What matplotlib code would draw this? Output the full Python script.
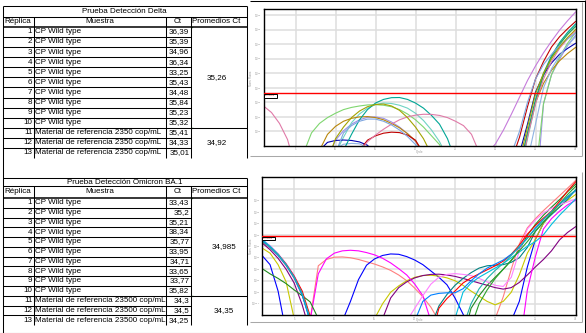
import numpy as np
import matplotlib
matplotlib.use("Agg")
import matplotlib.pyplot as plt
from matplotlib.patches import Rectangle, Polygon

plt.rcParams['font.family'] = ['Liberation Sans', 'DejaVu Sans']

W, H = 586, 333

# ---------------- table data ----------------
headers = ["Réplica", "Muestra", "Ct", "Promedios Ct"]
replicas = list(range(1, 14))

delta_title = "Prueba Detección Delta"
delta_samples = ["CP Wild type"] * 10 + ["Material de referencia 2350 cop/mL"] * 3
delta_ct = ["36,39", "35,39", "34,96", "36,34", "33,25", "35,43", "34,48",
            "35,84", "35,23", "35,32", "35,41", "34,33", "35,01"]
delta_avg = ["35,26", "34,92"]

omicron_title = "Prueba Detección Omicron BA.1"
omicron_samples = ["CP Wild type"] * 10 + ["Material de referencia 23500 cop/mL"] * 3
omicron_ct = ["33,43", "35,2", "35,21", "38,34", "35,77", "33,95", "34,71",
              "33,65", "33,77", "35,82", "34,3", "34,5", "34,25"]
omicron_avg = ["34,985", "34,35"]

avg_groups = [(0, 10), (10, 13)]

# ---------------- chart data (log10 fluorescence, decades above axis floor) ----------------
cycle_ticks = [5, 10, 15, 20, 25, 30, 35, 40]

delta_threshold = 3.62
delta_colors = ["#9b8fe6", "#6fd3c3", "#0000b0", "#7fd66f", "#c67bdb", "#b8860b", "#c00000",
                "#8fb3e3", "#00a696", "#2f9e4f", "#e07aa8", "#7ea6e0", "#a3a300"]
# each sample: list of (first cycle, values at consecutive cycles)
delta_curves = [
    [(9, [-1, 0.4, 1.05, 1.5, 1.8, 1.97, 2.0, 1.9, 1.65, 1.3, 0.85, 0.3, -0.6]),
     (35, [-4, 2.9, 4.9, 5.95, 6.9, 7.6])],
    [(10, [-0.5, 0.6, 1.6, 2.2, 2.6, 2.85, 2.95, 2.92, 2.8, 2.6, 2.25, 1.75, 1.1, 0.3, -0.8]),
     (33, [-2, 0.5, 2.9, 4.8, 6.0, 6.95, 7.7, 8.3])],
    [(8, [-0.3, 0.25, 0.38, 0.41, 0.38, 0.28, 0.05, -0.6]),
     (33, [-0.5, 1.5, 3.7, 4.9, 5.7, 6.3, 6.7, 7.05])],
    [(6, [-0.5, 0.9, 1.55, 1.95, 2.25, 2.5, 2.65, 2.75, 2.82, 2.84, 2.8, 2.7, 2.5, 2.2, 1.8, 1.3, 0.7, 0.1, -1]),
     (35, [-2, 2.9, 4.9, 6.1, 7.05, 7.8])],
    [(29, [-0.5, 0.15, 1.1, 2.2, 3.35, 4.5, 5.5, 6.4, 7.2, 7.95, 8.6, 9.2])],
    [(8, [-0.3, 0.8, 1.35, 1.7, 1.9, 2.0, 2.02, 1.95, 1.8, 1.55, 1.25, 0.85, 0.35, -0.5]),
     (33, [-1.5, 0.9, 3.0, 4.3, 5.2, 5.85, 6.35, 6.77])],
    [(13, [-0.3, 0.4, 0.7, 0.88, 0.95, 0.92, 0.75, 0.4, -0.5]),
     (32, [-1.0, 0.6, 2.7, 4.6, 5.8, 6.8, 7.5, 8.05, 8.55])],
    [(10, [-0.2, 0.12, 0.18, 0.15, -0.1]),
     (34, [-1, 1.5, 4.0, 5.3, 6.2, 6.9, 7.5])],
    [(11, [-0.3, 0.8, 1.8, 2.5, 2.95, 3.2, 3.32, 3.33, 3.2, 2.95, 2.6, 2.1, 1.5, 0.5, -1]),
     (33, [-1.5, 0.9, 3.2, 5.0, 6.2, 7.1, 7.8, 8.38])],
    [(33, [-2, 0.7, 3.0, 4.9, 6.1, 7.0, 7.65, 8.2])],
    [(1, [2.75, 2.3, 1.55, 0.45, -1.5]),
     (13, [-0.4, 0.3, 0.75, 1.15, 1.5, 1.8, 2.0, 2.12, 2.18, 2.17, 2.1, 1.95, 1.7, 1.4, 0.8, -0.5]),
     (33, [-2, 0.6, 2.9, 4.6, 5.8, 6.7, 7.35, 7.9])],
    [(10, [-0.5, 0.9, 1.4, 1.7, 1.85, 1.85, 1.7, 1.45, 1.1, 0.65, 0.1, -0.8]),
     (32, [-0.5, 1.0, 3.0, 4.6, 5.6, 6.3, 6.9, 7.35, 7.75])],
    [(9, [-1, 0.5, 1.3, 1.95, 2.4, 2.7, 2.85, 2.88, 2.75, 2.45, 1.95, 1.3, 0.5, -0.6]),
     (33, [-1, 1.3, 3.6, 5.0, 6.0, 6.8, 7.45, 8.0])],
]

omicron_threshold = 6.88
omicron_colors = ["#ff7f7f", "#0000ff", "#c8c800", "#800080", "#ff00ff", "#1f8a1f", "#008080",
                  "#ff80ff", "#ff0000", "#00bfdf", "#0080ff", "#2ca02c", "#20b2aa"]
omicron_curves = [
    [(1, [6.4, 5.85, 5.2, 4.3, 3.2, 1.7, -0.3, 4.3, 4.85, 5.05, 5.07, 5.0, 4.85, 4.65, 4.45, 4.2,
          3.9, 3.5, 3.0, 2.35, 1.6, 0.7, -0.5]),
     (30, [-0.3, 1.6, 4.0, 6.2, 7.6, 8.4, 9.1, 9.75, 10.4, 11.05, 11.72])],
    [(1, [5.2, 4.4, 2.1, -1.5]),
     (11, [-0.5, 1.2, 3.1, 4.35, 4.9, 5.2, 5.33, 5.3, 5.1, 4.8, 4.4, 3.85, 3.3, 2.65, 1.5, 0.1, -1.5]),
     (32, [-0.5, 1.2, 4.2, 6.6, 8.0, 8.9, 9.7, 10.3, 10.85])],
    [(1, [5.85, 5.4, 4.4, 2.9, -0.3]),
     (15, [-0.3, 1.0, 2.0, 2.55, 3.0, 3.3, 3.45, 3.48, 3.4, 3.25, 3.0, 2.6, 2.1, 1.65, 1.2, 0.9,
           1.2, 2.0, 3.5, 5.4, 6.6, 8.0, 8.85, 9.45, 10.0, 10.5])],
    [(1, [6.3, 5.7, 4.95, 4.0, 2.8, 0.9, -1.5]),
     (16, [-0.3, 1.5, 2.4, 2.9, 3.25, 3.45, 3.55, 3.57, 3.5, 3.38, 3.2, 3.0, 2.8, 2.6, 2.4, 2.27,
           2.4, 2.85, 3.5, 4.2, 4.85, 5.6, 6.55, 7.2, 7.7])],
    [(1, [6.5, 5.95, 5.25, 4.4, 3.3, 1.8, -0.4, 3.6, 4.9, 5.4, 5.6, 5.65, 5.6, 5.45, 5.25, 4.95,
          4.55, 4.05, 3.5, 2.7, 1.7, -0.5]),
     (33, [-3, 2.2, 5.1, 7.5, 8.4, 9.05, 9.6, 10.0])],
    [(1, [4.06, 3.6, 3.2, 2.75, 2.2, 1.7, 1.15, -0.3]),
     (26, [-2, 0.6, 1.7, 2.6, 3.3, 4.0, 4.75, 5.7, 6.95, 7.9, 8.7, 9.4, 10.05, 10.75, 11.4])],
    [(1, [6.55, 6.0, 5.3, 4.4, 3.35, 1.9, -0.4]),
     (22, [-1, 0.8, 1.8, 2.6, 3.2, 3.7, 4.1, 4.3, 4.35, 4.4, 4.6, 5.0, 5.9, 7.3, 8.1, 8.75, 9.4, 10.1, 10.9])],
    [(1, [6.6, 6.05, 5.35, 4.5, 3.45, 2.0, -0.2]),
     (19, [-0.5, 0.6, 1.7, 2.7, 3.3, 3.55, 3.62, 3.55, 3.45, 3.2, 2.9, 2.6, 2.5, 3.3, 5.6, 7.5,
           8.3, 8.9, 9.3, 9.6, 9.85, 10.1])],
    [(1, [6.45, 5.95, 5.3, 4.45, 3.4, 2.1, -0.1]),
     (22, [-2, 0.6, 1.45, 2.1, 2.8, 3.25, 3.6, 3.95, 4.3, 4.7, 5.3, 6.1, 7.05, 7.8, 8.45, 9.05, 9.9, 10.8, 11.6])],
    [(1, [6.6, 6.0, 5.3, 4.4, 3.3, 1.8, -0.6]),
     (25, [-0.3, 2.0, 2.8, 3.3, 3.7, 4.1, 4.5, 5.0, 5.5, 6.0, 6.4, 7.0, 7.9, 8.7, 9.4, 10.1])],
    [(1, [6.5, 5.9, 5.2, 4.35, 3.25, 1.75, -0.5]),
     (20, [-0.5, 1.2, 1.75, 1.9, 1.95, 1.95, 2.3, 3.0, 3.6, 4.1, 4.45, 4.8, 5.3, 5.9, 6.7, 7.6,
           8.35, 9.0, 9.65, 10.25, 10.85])],
    [(27, [-1, 1.0, 2.2, 3.2, 4.0, 4.8, 5.6, 6.4, 7.3, 8.1, 8.9, 9.7, 10.5, 11.2])],
    [(1, [6.45, 5.9, 5.25, 4.4, 3.3, 1.9, -0.3]),
     (26, [-1, 1.0, 2.3, 3.2, 3.9, 4.5, 5.2, 6.0, 6.7, 7.5, 8.3, 9.0, 9.7, 10.3, 10.9])],
]

# ---------------- figure ----------------
fig = plt.figure(figsize=(W / 100, H / 100), dpi=100)
fig.patch.set_facecolor("white")

bg = fig.add_axes([0, 0, 1, 1])
bg.set_xlim(0, W)
bg.set_ylim(H, 0)
bg.axis("off")

FS = 5.8
LW = 0.75


def line(x0, x1, y0, y1, color="black", lw=LW):
    bg.plot([x0, x1], [y0, y1], color=color, lw=lw, solid_capstyle="butt")


def draw_table(title, samples, cts, avgs, y0, y1, y2, row_h, avg_x):
    xs = [2.5, 33.5, 165.5, 190.5, 246.5]
    rows = [y2 + i * row_h for i in range(14)]
    ybot = rows[13]
    line(xs[0], xs[4], y0, y0)
    line(xs[0], xs[4], y1, y1)
    line(xs[0], xs[4], y2, y2, lw=1.1)
    for i in range(1, 13):
        xe = xs[4] if i == 10 else xs[3]
        yy = np.floor(rows[i]) + 0.5
        line(xs[0], xe, yy, yy)
    line(xs[4], xs[4], y0, ybot)
    for x in xs[1:4]:
        line(x, x, y1, ybot)
    # texts
    bg.text((xs[0] + xs[4]) / 2, (y0 + y1) / 2 + 0.5, title, fontsize=FS, ha="center", va="center")
    hy = (y1 + y2) / 2 + 0.3
    bg.text(xs[0] + 1.5, hy, headers[0], fontsize=FS, ha="left", va="center")
    bg.text((xs[1] + xs[2]) / 2, hy, headers[1], fontsize=FS, ha="center", va="center")
    bg.text((xs[2] + xs[3]) / 2, hy, headers[2], fontsize=FS, ha="center", va="center")
    bg.text(xs[3] + 2, hy, headers[3], fontsize=FS, ha="left", va="center")
    for i in range(13):
        yc = rows[i] + row_h / 2 + 0.3
        bg.text(xs[1] - 1.2, yc, str(replicas[i]), fontsize=FS, ha="right", va="center")
        bg.text(xs[1] + 1.5, yc, samples[i], fontsize=FS, ha="left", va="center")
        bg.text(xs[3] - 1.2, yc, cts[i], fontsize=FS, ha="right", va="center")
    for (a, b), val in zip(avg_groups, avgs):
        yc = (rows[a] + rows[b]) / 2 + 0.3
        bg.text(avg_x, yc, val, fontsize=FS, ha="center", va="center")
        bg.add_patch(Polygon([(xs[3] + 0.5, rows[a] + 0.5), (xs[3] + 3.0, rows[a] + 0.5),
                              (xs[3] + 0.5, rows[a] + 3.0)], closed=True,
                             facecolor="#2a8a2a", edgecolor="none"))
    return ybot


draw_table(delta_title, delta_samples, delta_ct, delta_avg, 5.5, 16.5, 26.5, 10.08, 216.5)
draw_table(omicron_title, omicron_samples, omicron_ct, omicron_avg, 177.5, 185.5, 197.5, 9.78, 224)

# outer borders
line(2.5, 2.5, 5.5, H)
line(0, W, 332.5, 332.5)
line(250, W, 0.5, 0.5)
line(584.5, 584.5, 0, H)
# chart frames (grey)
line(250, 581.5, 155.5, 155.5, color="#a8a8a8")
line(581.5, 581.5, 2, 155.5, color="#a8a8a8")
line(250, 581.5, 321.5, 321.5, color="#a8a8a8")
line(581.5, 581.5, 172, 321.5, color="#a8a8a8")


def draw_chart(rect, curves, colors, thr, ymax, grid_dec, label_dec, label_exp, box_h):
    ax = fig.add_axes(rect)
    ax.set_facecolor("white")
    ax.set_xlim(1, 40)
    ax.set_ylim(0, ymax)
    ax.set_xticks(cycle_ticks)
    ax.set_xticklabels([str(t) for t in cycle_ticks])
    ax.set_yticks(grid_dec)
    ax.set_yticklabels([r"$10^{%d}$" % (d + label_exp) if d in label_dec else "" for d in grid_dec])
    ax.tick_params(length=0, labelsize=1.9, labelcolor="#9a9a9a", pad=1.0)
    ax.grid(True, color="#dedede", lw=1.1)
    ax.set_axisbelow(True)
    for col, segs in zip(colors, curves):
        for start, vals in segs:
            x = np.arange(start, start + len(vals))
            ax.plot(x, vals, color=col, lw=0.8)
    ax.axhline(thr, color="#ff0000", lw=1.0, zorder=5)
    ax.add_patch(Rectangle((1, thr - 0.06 - box_h), 1.65, box_h, facecolor="white",
                           edgecolor="black", lw=0.7, zorder=6, clip_on=False))
    ax.text(1.15, thr - 0.06 - box_h / 2, "Threshold", fontsize=1.6, color="#cc3333",
            ha="left", va="center", zorder=7)
    for s in ax.spines.values():
        s.set_color("black")
        s.set_linewidth(1.0)
    return ax


ax1 = draw_chart([263.5 / W, 1 - 146 / H, 312 / W, 136.7 / H], delta_curves, delta_colors,
                 delta_threshold, 9.39, list(range(1, 10)), list(range(1, 10)), -10, 0.24)
ax2 = draw_chart([262 / W, 1 - 315.2 / H, 313.6 / W, 137.9 / H], omicron_curves, omicron_colors,
                 omicron_threshold, 12.0, list(range(1, 12)), list(range(1, 11)), -11, 0.3)

for yc, yl in [((9.3 + 146) / 2, 151.7), ((177.3 + 315.2) / 2, 320.3)]:
    fig.text(250.6 / W, 1 - yc / H, "Norm. Fluoro.", rotation=90, fontsize=1.9, color="#9a9a9a",
             ha="center", va="center")
    fig.text(420 / W, 1 - yl / H, "Cycle", fontsize=2.2, color="#9a9a9a", ha="center", va="center")

fig.savefig("out.png", dpi=100, facecolor="white")
